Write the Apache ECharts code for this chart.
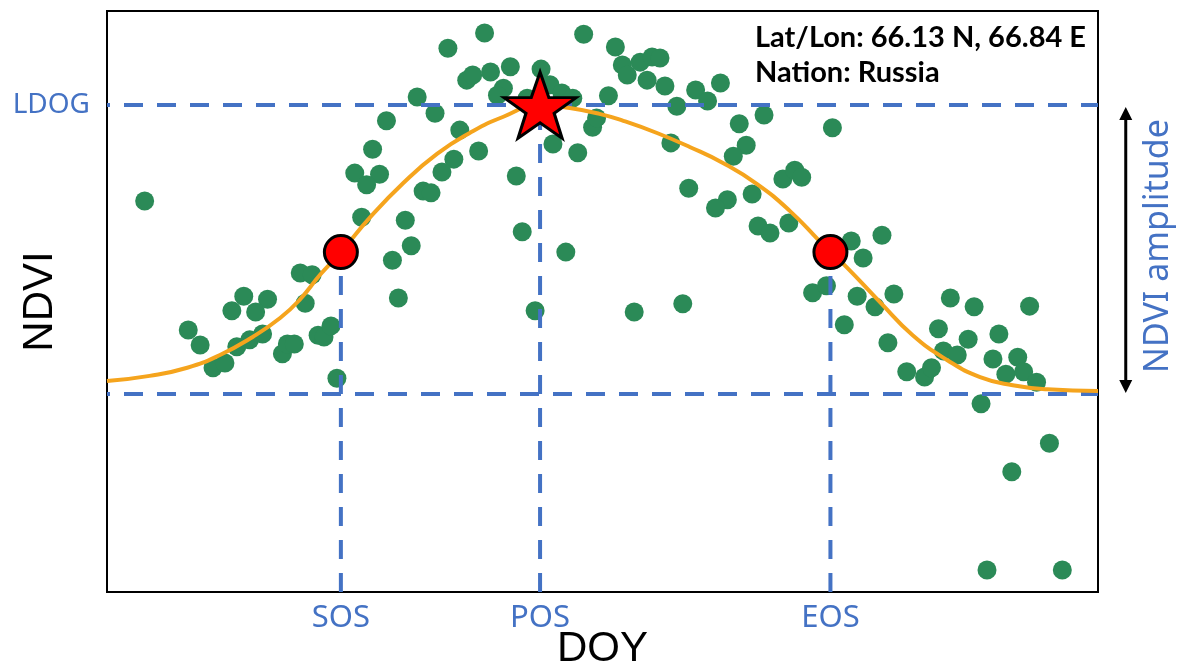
<!DOCTYPE html>
<html><head><meta charset="utf-8">
<script src="https://cdn.jsdelivr.net/npm/echarts@6/dist/echarts.min.js"></script>
<style>html,body{margin:0;padding:0;background:#fff}#c{width:1177px;height:668px}</style>
</head><body><div id="c"></div>
<script>
// Observed NDVI samples (x = relative DOY 0-100, y = NDVI 0-1)
const obsDOY = [3.8,34.4,38.1,48.1,36.3,36.9,38.7,40.7,43.8,40.0,39.4,44.7,45.9,47.0,42.4,31.3,33.1,28.2,35.6,49.0,49.4,26.8,37.5,45.0,47.5,35.0,33.8,25.0,27.5,26.2,41.3,31.9,32.7,25.7,30.1,41.9,46.3,30.7,28.8,19.5,20.7,13.8,16.2,12.6,15.0,20.0,29.4,43.2,8.2,9.4,10.7,11.9,13.1,14.4,15.7,17.7,18.2,18.9,21.3,21.9,22.6,23.2,
  51.3,52.0,52.5,53.8,55.0,55.8,54.5,56.3,59.4,60.6,61.9,57.5,50.6,66.3,63.8,73.2,56.9,64.5,63.2,68.2,69.4,70.1,58.7,65.1,62.6,61.4,65.7,66.9,68.8,75.1,78.2,76.3,71.2,72.6,75.7,79.4,77.5,85.1,87.5,93.1,53.2,58.1,74.4,78.8,83.9,86.9,90.0,84.4,85.8,89.4,91.9,90.7,92.5,93.8,80.7,82.5,83.2,88.2,95.1,91.3,88.8,96.4];
const obsNDVI = [0.673,0.936,0.962,0.960,0.881,0.890,0.895,0.904,0.900,0.867,0.855,0.873,0.859,0.850,0.850,0.852,0.824,0.811,0.795,0.800,0.816,0.762,0.759,0.771,0.756,0.745,0.723,0.721,0.719,0.701,0.716,0.690,0.687,0.645,0.640,0.620,0.585,0.596,0.571,0.549,0.546,0.509,0.504,0.484,0.482,0.497,0.506,0.484,0.451,0.425,0.386,0.394,0.422,0.434,0.444,0.410,0.427,0.427,0.442,0.439,0.458,0.368,
  0.938,0.907,0.890,0.912,0.921,0.919,0.881,0.871,0.864,0.845,0.876,0.836,0.854,0.821,0.806,0.799,0.773,0.769,0.750,0.711,0.726,0.714,0.695,0.685,0.675,0.661,0.630,0.618,0.635,0.604,0.614,0.575,0.515,0.527,0.509,0.513,0.491,0.506,0.491,0.492,0.482,0.496,0.460,0.429,0.453,0.435,0.444,0.415,0.408,0.401,0.404,0.375,0.379,0.361,0.379,0.370,0.386,0.324,0.256,0.207,0.038,0.038];
// Fitted curve
const curveDOY  = [0,4.3,8.1,11.4,14.7,17.5,19.5,21.5,23.6,26.5,29.9,33.3,36.6,40.0,43.7,46.7,49.7,52.1,55.5,58.8,62.2,65.6,68.9,71.9,73.0,74.7,78.0,81.3,84.8,88.1,91.4,94.9,100];
const curveNDVI = [0.363,0.372,0.386,0.408,0.439,0.472,0.504,0.546,0.585,0.644,0.704,0.754,0.790,0.818,0.838,0.833,0.823,0.811,0.790,0.766,0.738,0.702,0.656,0.604,0.585,0.558,0.499,0.442,0.399,0.370,0.356,0.349,0.346];
// Phenology metrics
const phenoNames = ['SOS','POS','EOS'];
const phenoDOY  = [23.6, 43.7, 73.0];
const phenoNDVI = [0.585, 0.838, 0.585];
const ldogNDVI = 0.838;
const baseNDVI = 0.341;
const yTickNames = ['LDOG'];
const infoLines = ['Lat/Lon: 66.13 N, 66.84 E', 'Nation: Russia'];

const BLUE = '#4472C4';
const chart = echarts.init(document.getElementById('c'));
const zip = (a, b) => a.map((v, i) => [v, b[i]]);
const dashed = (data, off) => ({
  type: 'line', data, symbol: 'none', silent: true, z: 3, animation: false,
  lineStyle: { color: BLUE, width: 4, type: [19, 14], dashOffset: off, cap: 'butt' }
});
const starPath = 'path://M50,0 L61.8,35.1 L98.1,35.1 L68.8,56.7 L79.4,91 L50,70 L20.6,91 L31.2,56.7 L1.9,35.1 L38.2,35.1 Z';

chart.setOption({
  animation: false,
  backgroundColor: '#fff',
  title: {
    text: infoLines.join('\n'), left: 750, top: 15,
    textStyle: { fontFamily: 'Lato', fontWeight: 'bold', fontSize: 29, color: '#000', lineHeight: 35 }
  },
  grid: { left: 107, right: 79, top: 11, bottom: 76, show: true, borderColor: '#000', borderWidth: 2, outerBoundsMode: 'none' },
  xAxis: {
    type: 'value', min: 0, max: 100,
    name: 'DOY', nameLocation: 'middle', nameGap: 36, nameMoveOverlap: false,
    nameTextStyle: { fontFamily: 'Liberation Sans', fontSize: 42, color: '#000' },
    axisLine: { show: true, lineStyle: { color: '#000', width: 2 } },
    axisTick: { show: false }, splitLine: { show: false },
    axisLabel: {
      customValues: phenoDOY, margin: 11,
      formatter: v => phenoNames[phenoDOY.indexOf(v)] || '',
      color: BLUE, fontFamily: 'Noto Sans', fontSize: 31
    }
  },
  yAxis: {
    type: 'value', min: 0, max: 1,
    name: 'NDVI', nameLocation: 'middle', nameGap: 46, nameRotate: 90, nameMoveOverlap: false,
    nameTextStyle: { fontFamily: 'Liberation Sans', fontSize: 42, color: '#000' },
    axisLine: { show: true, lineStyle: { color: '#000', width: 2 } },
    axisTick: { show: false }, splitLine: { show: false },
    axisLabel: {
      customValues: [ldogNDVI], margin: 17,
      formatter: () => yTickNames[0],
      color: BLUE, fontFamily: 'Noto Sans', fontSize: 28
    }
  },
  series: [
    { type: 'scatter', data: zip(obsDOY, obsNDVI), symbolSize: 19, z: 1,
      itemStyle: { color: '#2B8A57', opacity: 1 } },
    dashed([[0, ldogNDVI], [100, ldogNDVI]], 16),
    dashed([[0, baseNDVI], [100, baseNDVI]], 16),
    dashed([[phenoDOY[0], 0], [phenoDOY[0], phenoNDVI[0]]], 0),
    dashed([[phenoDOY[1], 0], [phenoDOY[1], phenoNDVI[1]]], 0),
    dashed([[phenoDOY[2], 0], [phenoDOY[2], phenoNDVI[2]]], 0),
    { type: 'line', data: zip(curveDOY, curveNDVI), smooth: 0.5, symbol: 'none', z: 4,
      lineStyle: { color: '#F5A41D', width: 4 } },
    { type: 'scatter', data: [[phenoDOY[0], phenoNDVI[0]], [phenoDOY[2], phenoNDVI[2]]], symbolSize: 33, z: 5,
      itemStyle: { color: '#FF0000', borderColor: '#000', borderWidth: 3, opacity: 1 } },
    { type: 'scatter', data: [[phenoDOY[1], phenoNDVI[1]]], symbol: starPath, symbolSize: [72, 66], symbolKeepAspect: false, z: 6,
      itemStyle: { color: '#FF0000', borderColor: '#000', borderWidth: 3, opacity: 1 } }
  ]
});

// Amplitude arrow beside the plot, positioned through the axes
const ax = chart.convertToPixel({ xAxisIndex: 0 }, 102.8);
const yTop = chart.convertToPixel({ yAxisIndex: 0 }, ldogNDVI) + 2;
const yBot = chart.convertToPixel({ yAxisIndex: 0 }, baseNDVI) - 1;
const head = 13, hw = 6.5;
chart.setOption({
  graphic: [
    { type: 'line', shape: { x1: ax, y1: yTop + head - 2, x2: ax, y2: yBot - head + 2 }, style: { stroke: '#000', lineWidth: 3 } },
    { type: 'polygon', shape: { points: [[ax, yTop], [ax - hw, yTop + head], [ax + hw, yTop + head]] }, style: { fill: '#000' } },
    { type: 'polygon', shape: { points: [[ax, yBot], [ax - hw, yBot - head], [ax + hw, yBot - head]] }, style: { fill: '#000' } },
    { type: 'text', x: ax + 33, y: (yTop + yBot) / 2 - 4, rotation: Math.PI / 2,
      style: { text: 'NDVI amplitude', fill: BLUE, font: '34px "Noto Sans"', align: 'center', verticalAlign: 'middle' } }
  ]
});
</script></body></html>
